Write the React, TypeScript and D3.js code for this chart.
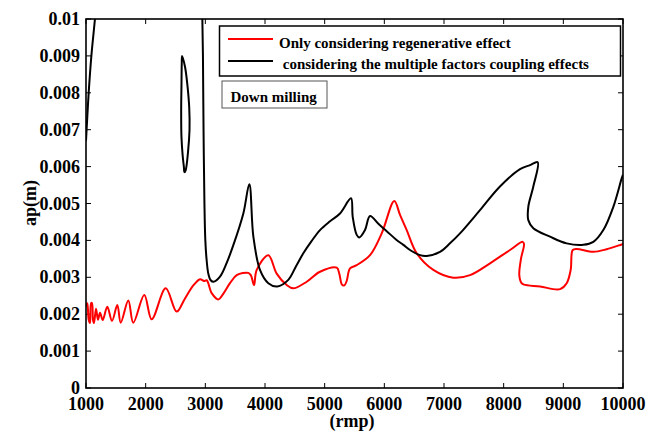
import React from "react";
import * as d3 from "d3";

// rpm, ap (x 0.001 m)
const redRpm = [1000, 1022, 1045, 1067, 1085, 1100, 1117, 1134, 1168, 1201, 1235, 1280, 1357, 1436, 1525, 1582, 1709, 1793, 1977, 2101, 2336, 2520, 2650, 2798, 2911, 2978, 3023, 3107, 3217, 3300, 3413, 3526, 3720, 3765, 3816, 3861, 4056, 4196, 4364, 4474, 4699, 4922, 5202, 5245, 5290, 5330, 5369, 5425, 5537, 5760, 5956, 6167, 6263, 6375, 6543, 6821, 7156, 7436, 7771, 8106, 8319, 8341, 8290, 8262, 8300, 8340, 8609, 8944, 9056, 9123, 9157, 9224, 9502, 9727, 9978, 10000];
const redAp = [2.2, 2.3, 1.85, 1.76, 2.3, 2.3, 1.85, 1.76, 2.15, 1.85, 2.04, 1.84, 2.2, 1.82, 2.25, 1.77, 2.37, 1.77, 2.52, 1.86, 2.7, 2.07, 2.4, 2.78, 2.95, 2.9, 2.92, 2.57, 2.4, 2.55, 2.84, 3.06, 3.12, 3.05, 2.79, 3.2, 3.6, 3.1, 2.79, 2.7, 2.88, 3.15, 3.26, 3.1, 2.8, 2.78, 2.9, 3.24, 3.33, 3.6, 4.19, 5.07, 4.69, 4.28, 3.65, 3.2, 2.99, 3.06, 3.38, 3.74, 3.96, 3.9, 3.5, 3.06, 2.84, 2.8, 2.75, 2.68, 2.84, 3.2, 3.74, 3.77, 3.69, 3.76, 3.89, 3.9];

const blackLeftRpm = [1000, 1010, 1045, 1090, 1150, 1165];
const blackLeftAp = [6.7, 7.0, 8.0, 9.0, 10.0, 10.3];

const blackLoopRpm = [2610, 2660, 2700, 2730, 2735, 2710, 2670, 2650, 2640, 2620, 2600, 2595, 2600, 2605];
const blackLoopAp = [9.0, 8.7, 8.2, 7.6, 7.0, 6.4, 5.9, 5.85, 6.0, 6.3, 6.8, 7.5, 8.2, 8.8];

const blackMainRpm = [2945, 2950, 2960, 2970, 2985, 3000, 3020, 3050, 3090, 3135, 3246, 3360, 3469, 3637, 3737, 3805, 3916, 4056, 4206, 4390, 4520, 4642, 4780, 4922, 5090, 5257, 5441, 5470, 5537, 5581, 5676, 5760, 5900, 6040, 6200, 6318, 6450, 6598, 6710, 6933, 7100, 7268, 7603, 7938, 8274, 8441, 8570, 8497, 8413, 8413, 8497, 8777, 9056, 9335, 9503, 9670, 9838, 9978, 10000];
const blackMainAp = [10.3, 10.0, 9.0, 7.0, 5.0, 4.0, 3.5, 3.1, 2.92, 2.88, 3.02, 3.4, 3.87, 4.73, 5.52, 4.1, 3.2, 2.84, 2.75, 2.93, 3.3, 3.65, 3.98, 4.28, 4.52, 4.73, 5.14, 4.64, 4.15, 4.08, 4.28, 4.66, 4.45, 4.25, 4.02, 3.88, 3.72, 3.6, 3.58, 3.69, 3.92, 4.19, 4.82, 5.46, 5.93, 6.04, 6.12, 5.46, 4.91, 4.55, 4.33, 4.1, 3.92, 3.88, 3.96, 4.28, 4.91, 5.68, 5.78];

const xTicks = [1000, 2000, 3000, 4000, 5000, 6000, 7000, 8000, 9000, 10000];
const yTicks = [0, 0.001, 0.002, 0.003, 0.004, 0.005, 0.006, 0.007, 0.008, 0.009, 0.01];
const yTickLabels = ["0", "0.001", "0.002", "0.003", "0.004", "0.005", "0.006", "0.007", "0.008", "0.009", "0.01"];

const legendLabels = ["Only considering regenerative effect", " considering the multiple factors coupling effects"];
const annotation = "Down milling";

const W = 657, H = 432;
const L = 86, R = 623, T = 19, B = 388;
const FONT = "'Liberation Serif', 'Times New Roman', serif";

export default function App() {
  const x = d3.scaleLinear().domain([1000, 10000]).range([L, R]);
  const y = d3.scaleLinear().domain([0, 0.01]).range([B, T]);
  const line = d3.line<[number, number]>().x(d => x(d[0])).y(d => y(d[1] * 0.001)).curve(d3.curveCatmullRom.alpha(0.5));
  const loop = d3.line<[number, number]>().x(d => x(d[0])).y(d => y(d[1] * 0.001)).curve(d3.curveCatmullRomClosed.alpha(0.5));
  const mk = (a: number[], b: number[]) => a.map((v, i) => [v, b[i]] as [number, number]);

  const red = line(mk(redRpm, redAp)) || "";
  const bl1 = line(mk(blackLeftRpm, blackLeftAp)) || "";
  const bl2 = loop(mk(blackLoopRpm, blackLoopAp)) || "";
  const bl3 = line(mk(blackMainRpm, blackMainAp)) || "";
  const tk = 5;

  return (
    <svg width={W} height={H} style={{ position: "absolute", left: 0, top: 0, background: "#fff" }} fontFamily={FONT}>
      <defs>
        <clipPath id="plot">
          <rect x={L} y={T} width={R - L} height={B - T} />
        </clipPath>
      </defs>
      <rect x={0} y={0} width={W} height={H} fill="#fff" />
      {xTicks.map(t => (
        <g key={"x" + t}>
          <line x1={x(t)} x2={x(t)} y1={B} y2={B - tk} stroke="#000" strokeWidth={1} />
          <line x1={x(t)} x2={x(t)} y1={T} y2={T + tk} stroke="#000" strokeWidth={1} />
          <text x={x(t)} y={410} textAnchor="middle" fontSize={18} fontWeight="bold">{t}</text>
        </g>
      ))}
      {yTicks.map((t, i) => (
        <g key={"y" + t}>
          <line x1={L} x2={L + tk} y1={y(t)} y2={y(t)} stroke="#000" strokeWidth={1} />
          <line x1={R} x2={R - tk} y1={y(t)} y2={y(t)} stroke="#000" strokeWidth={1} />
          <text x={80} y={y(t) + 6} textAnchor="end" fontSize={18} fontWeight="bold">{yTickLabels[i]}</text>
        </g>
      ))}
      <g clipPath="url(#plot)" fill="none" strokeWidth={2} strokeLinejoin="round">
        <path d={red} stroke="#ff0000" />
        <path d={bl1} stroke="#000" />
        <path d={bl2} stroke="#000" />
        <path d={bl3} stroke="#000" />
      </g>
      <rect x={L} y={T} width={R - L} height={B - T} fill="none" stroke="#000" strokeWidth={1.6} />
      <rect x={219.5} y={26} width={401} height={50} fill="#fff" stroke="#000" strokeWidth={1.5} />
      <line x1={228} x2={273} y1={39} y2={39} stroke="#ff0000" strokeWidth={2} />
      <line x1={228} x2={273} y1={61} y2={61} stroke="#000" strokeWidth={2} />
      <text x={279} y={48} fontSize={15} fontWeight="bold" style={{ whiteSpace: "pre" }}>{legendLabels[0]}</text>
      <text x={279} y={69} fontSize={15} fontWeight="bold" style={{ whiteSpace: "pre" }}>{legendLabels[1]}</text>
      <rect x={222} y={81} width={105} height={27} fill="#fff" stroke="#555" strokeWidth={1} />
      <text x={230.5} y={102} fontSize={15} fontWeight="bold">{annotation}</text>
      <text x={352} y={427} textAnchor="middle" fontSize={18} fontWeight="bold">(rmp)</text>
      <text transform="translate(36,203) rotate(-90)" textAnchor="middle" fontSize={18} fontWeight="bold">ap(m)</text>
    </svg>
  );
}
